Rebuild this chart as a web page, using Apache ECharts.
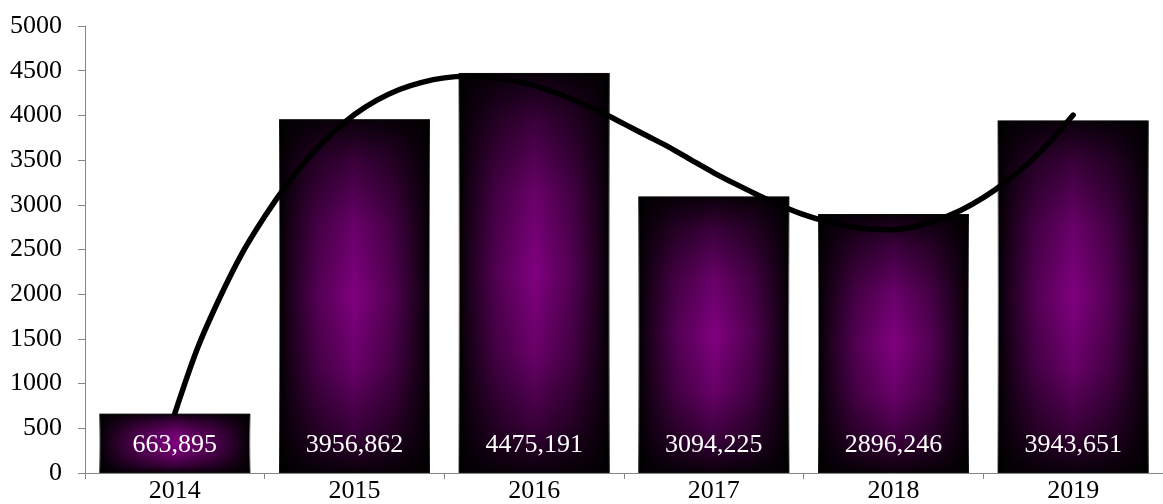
<!DOCTYPE html>
<html>
<head>
<meta charset="utf-8">
<script src="https://cdn.jsdelivr.net/npm/echarts@6/dist/echarts.min.js"></script>
<style>
html,body{margin:0;padding:0;background:#fff;}
#chart{width:1163px;height:504px;}
</style>
</head>
<body>
<div id="chart"></div>
<script>
// Data
const categories = ['2014', '2015', '2016', '2017', '2018', '2019'];
const values = [663.895, 3956.862, 4475.191, 3094.225, 2896.246, 3943.651];
const yTicks = { min: 0, max: 5000, interval: 500 };
// Trendline: position in category units (0 = 2014) and value
const trendX = [0, 0.125, 0.25, 0.375, 0.5, 0.625, 0.75, 0.875, 1.0, 1.125, 1.25, 1.375, 1.5, 1.625, 1.75, 1.875,
  2.0, 2.125, 2.25, 2.375, 2.5, 2.625, 2.75, 2.875, 3.0, 3.125, 3.25, 3.375, 3.5, 3.625, 3.75, 3.875,
  4.0, 4.125, 4.25, 4.375, 4.5, 4.625, 4.75, 4.875, 5.0];
const trendY = [668, 1390, 1960, 2460, 2870, 3230, 3540, 3800, 4010, 4170, 4290, 4370, 4420, 4437, 4430, 4395,
  4335, 4250, 4150, 4035, 3905, 3775, 3645, 3500, 3358, 3228, 3105, 2990, 2890, 2815, 2760, 2728,
  2722, 2760, 2835, 2940, 3080, 3255, 3465, 3715, 4004];

const FONT = "'Liberation Serif', 'Times New Roman', serif";
const chart = echarts.init(document.getElementById('chart'), null, { renderer: 'canvas' });

const hGrad = new echarts.graphic.LinearGradient(0, 0, 1, 0, [
  { offset: 0, color: '#000000' },
  { offset: 0.07, color: '#1c001c' },
  { offset: 0.25, color: '#520052' },
  { offset: 0.5, color: '#800080' },
  { offset: 0.75, color: '#520052' },
  { offset: 0.93, color: '#1c001c' },
  { offset: 1, color: '#000000' }
]);
const vGrad = new echarts.graphic.LinearGradient(0, 0, 0, 1, [
  { offset: 0, color: 'rgba(0,0,0,0.92)' },
  { offset: 0.12, color: 'rgba(0,0,0,0.55)' },
  { offset: 0.3, color: 'rgba(0,0,0,0.18)' },
  { offset: 0.5, color: 'rgba(0,0,0,0)' },
  { offset: 0.7, color: 'rgba(0,0,0,0.18)' },
  { offset: 0.88, color: 'rgba(0,0,0,0.55)' },
  { offset: 1, color: 'rgba(0,0,0,0.92)' }
]);

chart.setOption({
  animation: false,
  backgroundColor: '#ffffff',
  grid: { left: 85, right: -16, top: 26, bottom: 31, containLabel: false },
  xAxis: [
    {
      type: 'category',
      data: categories,
      axisLine: { show: true, lineStyle: { color: '#868686', width: 1 } },
      axisTick: { show: true, alignWithLabel: false, length: 6, lineStyle: { color: '#868686' } },
      axisLabel: { color: '#000', fontFamily: FONT, fontSize: 26, margin: 5 },
      splitLine: { show: false }
    },
    {
      type: 'value',
      min: -0.5,
      max: 5.5,
      show: false,
      splitLine: { show: false }
    }
  ],
  yAxis: {
    type: 'value',
    min: yTicks.min,
    max: yTicks.max,
    interval: yTicks.interval,
    axisLine: { show: true, onZero: false, lineStyle: { color: '#868686', width: 1 } },
    axisTick: { show: true, length: 7, lineStyle: { color: '#868686' } },
    axisLabel: { color: '#000', fontFamily: FONT, fontSize: 26, margin: 23, formatter: v => String(v) },
    splitLine: { show: false }
  },
  series: [
    {
      type: 'bar',
      data: values,
      barCategoryGap: '16%',
      itemStyle: { color: hGrad, borderColor: '#8a8a8a', borderWidth: 1 },
      z: 2
    },
    {
      type: 'bar',
      data: values,
      barGap: '-100%',
      barCategoryGap: '16%',
      itemStyle: { color: vGrad },
      label: {
        show: true,
        position: 'insideBottom',
        distance: 15,
        color: '#ffffff',
        fontFamily: FONT,
        fontSize: 26,
        formatter: p => String(p.value).replace('.', ',')
      },
      z: 3
    },
    {
      type: 'line',
      xAxisIndex: 1,
      data: trendX.map((x, i) => [x, trendY[i]]),
      smooth: 0.3,
      showSymbol: false,
      symbol: 'none',
      lineStyle: { color: '#000', width: 5.5, cap: 'round' },
      z: 5
    }
  ]
});
</script>
</body>
</html>
